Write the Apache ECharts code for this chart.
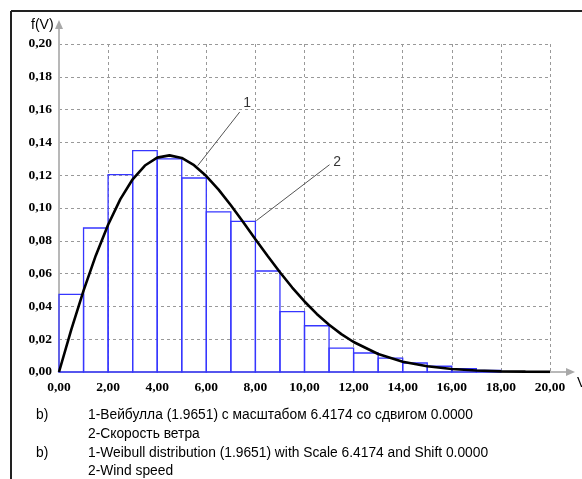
<!DOCTYPE html>
<html>
<head>
<meta charset="utf-8">
<script src="https://cdn.jsdelivr.net/npm/echarts@6/dist/echarts.min.js"></script>
<style>
html,body{margin:0;padding:0;background:#fff;}
#chart{width:582px;height:479px;}
</style>
</head>
<body>
<div id="chart"></div>
<script>
// Histogram bins (wind speed, m/s): left edge, right edge, frequency
const binStart = [0,1,2,3,4,5,6,7,8,9,10,11,12,13,14,15,16,17];
const binEnd   = [1,2,3,4,5,6,7,8,9,10,11,12,13,14,15,16,17,18];
const binFreq  = [0.0473,0.0878,0.1203,0.1350,0.1300,0.1183,0.0976,0.0918,0.0616,0.0368,0.0282,0.0146,0.0116,0.0085,0.0055,0.0035,0.0020,0.0010];

// Weibull curve points
const curveV = [0,0.5,1,1.5,2,2.5,3,3.5,4,4.5,5,5.5,6,6.5,7,7.5,8,8.5,9,9.5,10,10.5,11,11.5,12,13,14,15,16,17,18,19,20];
const curveF = [0,0.0259,0.0496,0.0711,0.0898,0.1054,0.1175,0.1259,0.1307,0.1321,0.1305,0.1261,0.1195,0.1112,0.1017,0.0915,0.0810,0.0707,0.0608,0.0515,0.0430,0.0354,0.0288,0.0231,0.0183,0.0110,0.0063,0.0035,0.0018,0.0009,0.0004,0.0002,0.0001];

// Axis ticks
const xTicks = {min:0, max:20, interval:2};
const yTicks = {min:0, max:0.20, interval:0.02};

// Annotation leader lines (data coordinates) and labels
const note1Line = [[5.65,0.1258],[7.36,0.1585]];
const note1Pos = [7.66,0.1640];
const note2Line = [[8.04,0.0923],[11.02,0.1264]];
const note2Pos = [11.33,0.1280];
const noteText = ['1','2'];

const captionLines = [
  '1-Вейбулла (1.9651) с масштабом 6.4174 со сдвигом 0.0000',
  '2-Скорость ветра',
  '1-Weibull distribution (1.9651) with Scale 6.4174 and Shift 0.0000',
  '2-Wind speed'
];
const captionMark = 'b)';

const fmt = v => v.toFixed(2).replace('.', ',');

const histData = binStart.map((s,i)=>[s, binEnd[i], binFreq[i]]);
const curveData = curveV.map((v,i)=>[v, curveF[i]]);

const chart = echarts.init(document.getElementById('chart'), null, {renderer:'canvas'});

const tickFont = {fontFamily:'"Liberation Serif", "Times New Roman", serif', fontWeight:'bold', fontSize:13.5, color:'#000'};
const sans = '"Liberation Sans", Arial, sans-serif';
const capFont = '13.8px ' + sans;

const option = {
  backgroundColor:'#fff',
  animation:false,
  grid:{left:59, top:44, right:32, bottom:107, containLabel:false},
  xAxis:{
    type:'value', min:xTicks.min, max:xTicks.max, interval:xTicks.interval,
    axisLine:{show:true, lineStyle:{color:'#b8b8b8', width:2}},
    axisTick:{show:false},
    axisLabel:Object.assign({margin:9, formatter:fmt}, tickFont),
    splitLine:{show:true, lineStyle:{color:'#999', type:[3,3], width:1}}
  },
  yAxis:{
    type:'value', min:yTicks.min, max:yTicks.max, interval:yTicks.interval,
    axisLine:{show:true, lineStyle:{color:'#b8b8b8', width:2}},
    axisTick:{show:false},
    axisLabel:Object.assign({margin:7, formatter:fmt}, tickFont),
    splitLine:{show:true, lineStyle:{color:'#999', type:[3,3], width:1}}
  },
  series:[
    {
      type:'custom',
      data:histData,
      clip:false,
      renderItem:function(params, api){
        const p0 = api.coord([api.value(0), api.value(2)]);
        const p1 = api.coord([api.value(1), 0]);
        return {
          type:'rect',
          shape:{x:p0[0], y:p0[1], width:p1[0]-p0[0], height:p1[1]-p0[1]},
          style:{fill:'none', stroke:'#3636ff', lineWidth:1.3}
        };
      },
      z:2
    },
    {
      type:'line',
      data:curveData,
      symbol:'none',
      smooth:false,
      lineStyle:{color:'#000', width:2.6},
      z:3
    },
    {
      type:'line', data:note1Line, symbol:'none',
      lineStyle:{color:'#555', width:1}, z:4
    },
    {
      type:'line', data:note2Line, symbol:'none',
      lineStyle:{color:'#555', width:1}, z:4
    },
    {
      type:'scatter', symbolSize:0,
      data:[note1Pos, note2Pos],
      label:{show:true, position:'inside', formatter:p=>noteText[p.dataIndex], fontFamily:sans, fontSize:14, color:'#000'},
      z:5
    }
  ],
  graphic:[
    // outer frame
    {type:'line', shape:{x1:11, y1:11, x2:582, y2:11}, style:{stroke:'#222', lineWidth:2}},
    {type:'line', shape:{x1:11, y1:11, x2:11, y2:479}, style:{stroke:'#222', lineWidth:2}},
    // axis extensions with arrows
    {type:'line', shape:{x1:59, y1:44, x2:59, y2:26}, style:{stroke:'#b8b8b8', lineWidth:2}},
    {type:'polygon', shape:{points:[[55,29],[63,29],[59,20]]}, style:{fill:'#a8a8a8'}},
    {type:'line', shape:{x1:550, y1:372, x2:568, y2:372}, style:{stroke:'#b8b8b8', lineWidth:2}},
    {type:'polygon', shape:{points:[[566,368],[566,376],[575,372]]}, style:{fill:'#a8a8a8'}},
    {type:'text', style:{text:'f(V)', x:31, y:18, font:'14px '+sans, fill:'#000'}},
    {type:'text', style:{text:'V', x:577, y:376, font:'14px '+sans, fill:'#000'}},
    // caption
    {type:'text', style:{text:captionMark, x:36, y:408, font:capFont, fill:'#000'}},
    {type:'text', style:{text:captionLines[0], x:88, y:408, font:capFont, fill:'#000'}},
    {type:'text', style:{text:captionLines[1], x:88, y:427, font:capFont, fill:'#000'}},
    {type:'text', style:{text:captionMark, x:36, y:446, font:capFont, fill:'#000'}},
    {type:'text', style:{text:captionLines[2], x:88, y:446, font:capFont, fill:'#000'}},
    {type:'text', style:{text:captionLines[3], x:88, y:464, font:capFont, fill:'#000'}}
  ]
};
chart.setOption(option);
</script>
</body>
</html>
